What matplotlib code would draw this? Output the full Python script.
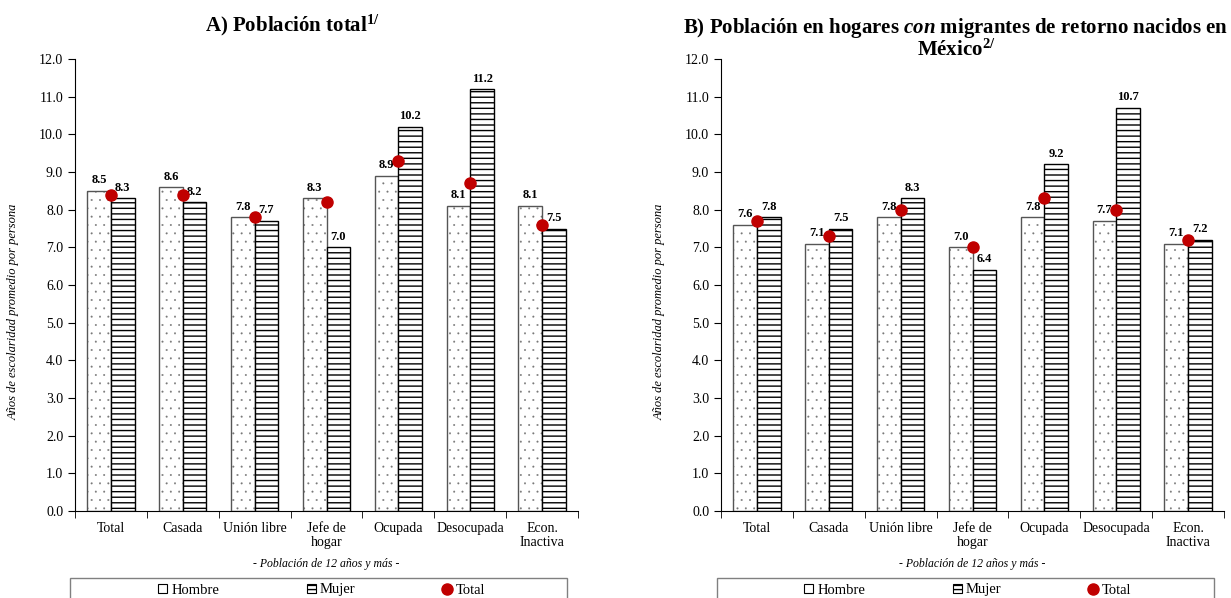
import numpy as np
import matplotlib
matplotlib.use("Agg")
import matplotlib.pyplot as plt
from matplotlib.patches import Rectangle
from matplotlib.ticker import FormatStrFormatter, MultipleLocator

plt.rcParams["font.family"] = ["Liberation Serif", "DejaVu Serif"]
plt.rcParams["mathtext.fontset"] = "custom"
plt.rcParams["mathtext.rm"] = "Liberation Serif:bold"
plt.rcParams["mathtext.bf"] = "Liberation Serif:bold"
plt.rcParams["mathtext.it"] = "Liberation Serif:italic:bold"

categorias = ["Total", "Casada", "Unión libre", "Jefe de\nhogar", "Ocupada",
              "Desocupada", "Econ.\nInactiva"]

# A) Población total
hombre_a = [8.5, 8.6, 7.8, 8.3, 8.9, 8.1, 8.1]
mujer_a = [8.3, 8.2, 7.7, 7.0, 10.2, 11.2, 7.5]
total_a = [8.4, 8.4, 7.8, 8.2, 9.3, 8.7, 7.6]

# B) Población en hogares con migrantes de retorno
hombre_b = [7.6, 7.1, 7.8, 7.0, 7.8, 7.7, 7.1]
mujer_b = [7.8, 7.5, 8.3, 6.4, 9.2, 10.7, 7.2]
total_b = [7.7, 7.3, 8.0, 7.0, 8.3, 8.0, 7.2]

titulo_a = "A) Población total$^{1/}$"
titulo_b1 = "B) Población en hogares $\\mathit{con}$ migrantes de retorno nacidos en"
titulo_b2 = "México$^{2/}$"

rojo = "#C00000"
W, H = 1231, 598

fig = plt.figure(figsize=(W / 100, H / 100), dpi=100)


def panel(left_px, hombre, mujer, total):
    ax = fig.add_axes([left_px / W, 1 - 511 / H, 503 / W, 452 / H])
    x = np.arange(len(categorias))
    w = 0.33
    # puntos finos y grises para Hombre, contorno aparte
    with plt.rc_context({"hatch.linewidth": 0.2}):
        ax.bar(x - w / 2, hombre, w, color="white", edgecolor="#777777",
               hatch="..", linewidth=0)
    ax.bar(x - w / 2, hombre, w, color="none", edgecolor="#555555",
           linewidth=1.0)
    with plt.rc_context({"hatch.linewidth": 1.0}):
        ax.bar(x + w / 2, mujer, w, color="white", edgecolor="black",
               hatch="---", linewidth=1.0)
    pt, = ax.plot(x, total, "o", color=rojo, markersize=8, zorder=5)
    for xi, h in zip(x - w / 2, hombre):
        ax.text(xi, h + 0.12, f"{h:.1f}", ha="center", va="bottom",
                fontsize=9, fontweight="bold")
    for xi, h in zip(x + w / 2, mujer):
        ax.text(xi, h + 0.12, f"{h:.1f}", ha="center", va="bottom",
                fontsize=9, fontweight="bold")

    ax.set_xlim(-0.5, len(categorias) - 0.5)
    ax.set_ylim(0, 12)
    ax.yaxis.set_major_locator(MultipleLocator(1))
    ax.yaxis.set_major_formatter(FormatStrFormatter("%.1f"))
    ax.tick_params(axis="y", labelsize=10, direction="out", length=5)
    ax.set_xticks(x)
    ax.set_xticklabels(categorias, fontsize=10, linespacing=1.1)
    ax.tick_params(axis="x", length=0, pad=8)
    ax.set_xticks(np.arange(-0.5, len(categorias)), minor=True)
    ax.tick_params(axis="x", which="minor", length=5, direction="out")
    for s in ("top", "right"):
        ax.spines[s].set_visible(False)
    ax.set_ylabel("Años de escolaridad promedio por persona", fontsize=9,
                  style="italic")
    ax.yaxis.set_label_coords(-0.11, 0.44)
    ax.text(0.5, -0.105, "- Población de 12 años y más -", transform=ax.transAxes,
            ha="center", va="top", fontsize=8.5, style="italic")
    leg_h = Rectangle((0, 0), 1, 1, facecolor="white", edgecolor="black", lw=0.8)
    leg_m = Rectangle((0, 0), 1, 1, facecolor="white", edgecolor="black", lw=0.8,
                      hatch="----")
    return ax, [leg_h, leg_m, pt]


ax_a, h_a = panel(75, hombre_a, mujer_a, total_a)
ax_b, h_b = panel(721, hombre_b, mujer_b, total_b)

fig.text(292 / W, 1 - 25 / H, titulo_a, ha="center", va="center",
         fontsize=15, fontweight="bold")
fig.text(956 / W, 1 - 28 / H, titulo_b1, ha="center", va="center",
         fontsize=15, fontweight="bold")
fig.text(956 / W, 1 - 50 / H, titulo_b2, ha="center", va="center",
         fontsize=15, fontweight="bold")

for handles, box_left, box_right, cx in [(h_a, 70, 567, 322), (h_b, 717, 1214, 968)]:
    fig.patches.append(Rectangle((box_left / W, -0.05), (box_right - box_left) / W,
                                 0.05 + 1 - 578 / H, transform=fig.transFigure,
                                 facecolor="none", edgecolor="#808080", linewidth=1))
    fig.legend(handles, ["Hombre", "Mujer", "Total"], loc="center",
               bbox_to_anchor=(cx / W, 1 - 590 / H),
               ncol=3, frameon=False, fontsize=10.5, handlelength=0.6,
               handleheight=0.6, handletextpad=0.3, columnspacing=6.0,
               borderpad=0)

fig.savefig("out.png", dpi=100)
